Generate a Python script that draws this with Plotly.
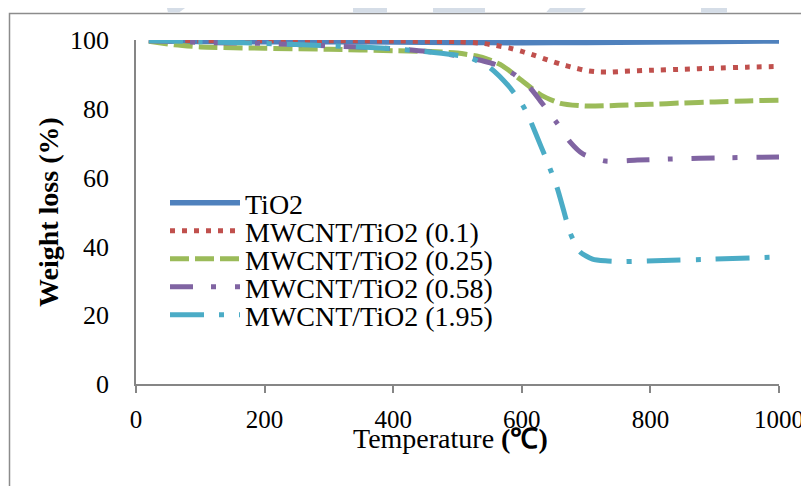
import plotly.graph_objects as go

# ---------------- data ----------------
tio2_T = [20, 100, 200, 300, 400, 500, 600, 700, 800, 900, 1000]
tio2_W = [99.8, 99.6, 99.5, 99.5, 99.4, 99.3, 99.2, 99.3, 99.4, 99.6, 99.7]

m01_T = [20, 100, 200, 300, 400, 500, 540, 560, 580, 600, 620, 640, 660, 680, 700, 720, 740, 760, 800, 850, 900, 950, 1000]
m01_W = [100, 99.8, 99.8, 99.8, 99.7, 99.5, 99.0, 98.4, 97.7, 96.7, 95.5, 94.2, 93.0, 92.0, 91.1, 90.7, 90.7, 90.9, 91.2, 91.5, 91.8, 92.1, 92.3]

m025_T = [20, 60, 100, 200, 300, 400, 450, 500, 540, 570, 600, 630, 660, 700, 750, 800, 850, 900, 950, 1000]
m025_W = [99.6, 98.6, 98.0, 97.6, 97.3, 96.9, 96.7, 96.2, 94.9, 92.5, 88.2, 84.0, 81.6, 80.8, 81.0, 81.3, 81.7, 82.0, 82.3, 82.5]

m058_T = [20, 100, 200, 300, 400, 450, 500, 540, 560, 590, 615, 630, 655, 675, 695, 730, 780, 850, 900, 1000]
m058_W = [99.8, 99.3, 99.0, 98.3, 97.5, 96.7, 95.4, 93.9, 92.8, 89.8, 85.6, 82.0, 75.8, 70.4, 66.9, 64.8, 65.1, 65.5, 65.7, 66.0]

m195_T = [20, 100, 200, 300, 380, 440, 490, 520, 550, 580, 600, 610, 630, 640, 655, 665, 675, 690, 710, 730, 760, 820, 900, 1000]
m195_W = [99.8, 99.5, 99.0, 98.3, 97.7, 96.8, 95.8, 94.8, 92.0, 86.5, 81.5, 78.0, 69.0, 64.5, 57.0, 50.5, 44.0, 38.5, 36.3, 35.8, 35.6, 35.9, 36.3, 36.9]

series_names = ["TiO2", "MWCNT/TiO2 (0.1)", "MWCNT/TiO2 (0.25)", "MWCNT/TiO2 (0.58)", "MWCNT/TiO2 (1.95)"]
x_ticks = [0, 200, 400, 600, 800, 1000]
y_ticks = [0, 20, 40, 60, 80, 100]

# ---------------- layout helpers ----------------
# The page body adds an 8px offset, so the figure is 8px smaller than the window.
OFF = 8
W, H = 809 - OFF, 486 - OFF
L, R, T, B = 136 - OFF, 30, 40 - OFF, 102
PW, PH = W - L - R, H - T - B


def px(x):  # window pixel -> paper x
    return (x - OFF - L) / PW


def py(y):  # window pixel -> paper y
    return (H - B - (y - OFF)) / PH


colors = ["#4f81bd", "#c0504d", "#9bbb59", "#8064a2", "#4bacc6"]
dashes = ["solid", "5px,7px", "19px,6px", "23px,18px,5px,19px", "34px,15px,5px,15px"]
data = [(tio2_T, tio2_W), (m01_T, m01_W), (m025_T, m025_W), (m058_T, m058_W), (m195_T, m195_W)]
legend_ids = ["legend", "legend2", "legend3", "legend4", "legend5"]

fig = go.Figure()
for i, ((xs, ys), name) in enumerate(zip(data, series_names)):
    fig.add_trace(go.Scatter(
        x=xs, y=ys, name=name, mode="lines", showlegend=True,
        line=dict(color=colors[i], width=5 if i else 5.5, dash=dashes[i], shape="spline", smoothing=0.6),
        legend=legend_ids[i], cliponaxis=False,
    ))

font_family = "Liberation Serif, Times New Roman, serif"
row_y = [203, 231, 259, 287, 315]
legends = {}
for i, lid in enumerate(legend_ids):
    legends[lid] = dict(
        x=px(165), y=py(row_y[i]), xanchor="left", yanchor="middle",
        bgcolor="rgba(0,0,0,0)", borderwidth=0,
        font=dict(family=font_family, size=28, color="black"),
        itemwidth=70,
    )

shapes = []
# outer frame
shapes.append(dict(type="rect", xref="paper", yref="paper",
                   x0=px(9.5), y0=py(13.5), x1=px(1000), y1=py(700),
                   line=dict(color="#8c8c8c", width=1.5), fillcolor="rgba(0,0,0,0)", layer="below"))
# faint background watermark blocks
wm_blue = "#d5dde7"
blocks = [
    (67, 0, 82, 5), (88, 0, 100, 5),
    (353, 0, 387, 13), (433, 0, 485, 13), (701, 0, 727, 13),
]
for x0, y0, x1, y1 in blocks:
    shapes.append(dict(type="rect", xref="paper", yref="paper",
                       x0=px(x0), y0=py(y0), x1=px(x1), y1=py(y1),
                       line=dict(width=0), fillcolor=wm_blue, layer="below"))
polys = [
    [(165, 0), (196, 0), (179, 12.5), (168, 12.5)],
    [(557, 0), (593, 0), (582, 12.5), (546, 12.5)],
]
for pts in polys:
    path = "M " + " L ".join(f"{px(a):.5f},{py(b):.5f}" for a, b in pts) + " Z"
    shapes.append(dict(type="path", xref="paper", yref="paper", path=path,
                       line=dict(width=0), fillcolor=wm_blue, layer="below"))

annotations = [
    dict(text="<b>Weight loss (%)</b>", x=px(48), y=py(212), xref="paper", yref="paper",
         showarrow=False, textangle=-90, xanchor="center", yanchor="middle",
         font=dict(family=font_family, size=28, color="black")),
    dict(text="Temperature <b>(℃)</b>", x=px(450), y=py(438), xref="paper", yref="paper",
         showarrow=False, xanchor="center", yanchor="middle",
         font=dict(family=font_family, size=28, color="black")),
]

fig.update_layout(
    width=W, height=H, autosize=False,
    margin=dict(l=L, r=R, t=T, b=B, pad=0, autoexpand=False),
    paper_bgcolor="white", plot_bgcolor="white",
    font=dict(family=font_family, color="black"),
    shapes=shapes, annotations=annotations, showlegend=True,
    **legends,
)
fig.update_xaxes(range=[0, 1000], tickvals=x_ticks, showline=True, linecolor="#868686", linewidth=1.5,
                 ticks="outside", ticklen=7, tickwidth=1.5, tickcolor="#868686", automargin=False,
                 showgrid=False, zeroline=False, tickfont=dict(size=25, family=font_family),
                 ticklabelstandoff=5, ticklabeloverflow="allow")
fig.update_yaxes(range=[0, 100], tickvals=y_ticks, showline=True, linecolor="#868686", linewidth=1.5,
                 ticks="", showgrid=False, zeroline=False, automargin=False,
                 tickfont=dict(size=26, family=font_family),
                 ticklabelstandoff=20)

fig.write_html("out.html")
